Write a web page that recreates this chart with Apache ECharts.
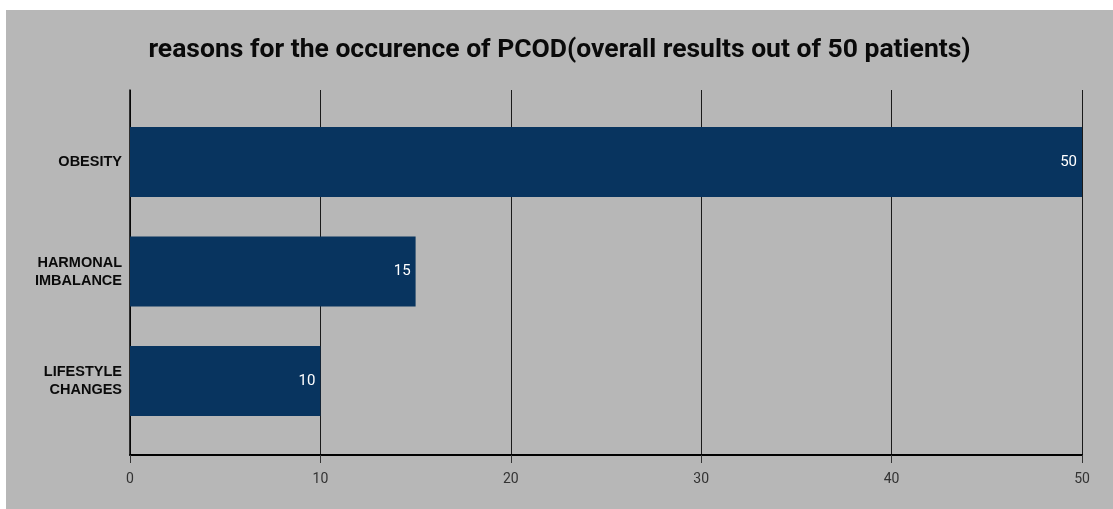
<!DOCTYPE html>
<html>
<head>
<meta charset="utf-8">
<script src="https://cdn.jsdelivr.net/npm/echarts@6/dist/echarts.min.js"></script>
<style>
  html, body { margin: 0; padding: 0; background: #ffffff; width: 1113px; height: 509px; overflow: hidden; }
  #chart { position: absolute; left: 6px; top: 10px; width: 1107px; height: 499px; background: #b7b7b7; }
</style>
</head>
<body>
<div id="chart"></div>
<script>
// Reasons reported for PCOD among 50 patients
const titleText = 'reasons for the occurence of PCOD(overall results out of 50 patients)';
const categories = ['OBESITY', 'HARMONAL\nIMBALANCE', 'LIFESTYLE\nCHANGES'];
const patientCounts = [50, 15, 10];
const xTicks = { min: 0, max: 50, interval: 10 };

const chart = echarts.init(document.getElementById('chart'), null, { renderer: 'canvas' });

chart.setOption({
  backgroundColor: 'transparent',
  animation: false,
  title: {
    text: titleText,
    left: 'center',
    top: 22,
    textStyle: { fontFamily: 'Roboto', fontWeight: 'bold', fontSize: 26.5, color: '#0a0a0a' }
  },
  grid: [
    // frame: value scale with gridlines
    { left: 124, right: 31, top: 80, bottom: 54 },
    // bars
    { left: 124, right: 31, top: 97.25, bottom: 73.25 }
  ],
  xAxis: [
    {
      gridIndex: 0, type: 'value', min: xTicks.min, max: xTicks.max, interval: xTicks.interval,
      axisLine: { show: true, lineStyle: { color: '#000000', width: 2 } },
      axisTick: { show: true, length: 8, lineStyle: { color: '#333333' } },
      axisLabel: { color: '#333333', fontFamily: 'Roboto', fontSize: 14, margin: 17 },
      splitLine: { show: true, lineStyle: { color: '#1a1a1a', width: 1 } }
    },
    {
      gridIndex: 1, type: 'value', min: xTicks.min, max: xTicks.max, show: false
    }
  ],
  yAxis: [
    {
      gridIndex: 0, type: 'category', data: categories, inverse: true,
      axisLine: { show: true, lineStyle: { color: '#000000', width: 1.5 } },
      axisTick: { show: false }, axisLabel: { show: false }, splitLine: { show: false }
    },
    {
      gridIndex: 1, type: 'category', data: categories, inverse: true,
      axisLine: { show: false }, axisTick: { show: false },
      axisLabel: {
        color: '#0a0a0a', fontFamily: 'Liberation Sans', fontWeight: 'bold', fontSize: 14.5,
        lineHeight: 18, margin: 8, align: 'right'
      }
    }
  ],
  series: [{
    type: 'bar',
    xAxisIndex: 1, yAxisIndex: 1,
    data: patientCounts,
    barCategoryGap: '36%',
    itemStyle: { color: '#08345f' },
    label: {
      show: true, position: 'insideRight', distance: 5,
      color: '#ffffff', fontFamily: 'Roboto', fontSize: 15
    }
  }]
});
</script>
</body>
</html>
